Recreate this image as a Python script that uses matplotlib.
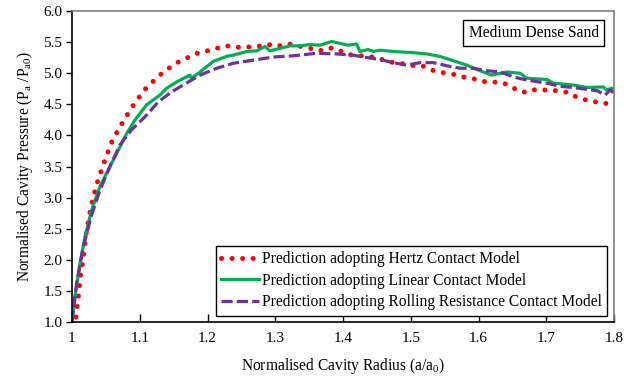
import matplotlib
matplotlib.use('Agg')
import matplotlib.pyplot as plt

plt.rcParams['font.family'] = ['Liberation Serif', 'DejaVu Serif']
plt.rcParams['mathtext.fontset'] = 'custom'
plt.rcParams['mathtext.rm'] = 'Liberation Serif'

# Data
hertz_x = [1.0059, 1.0074, 1.0093, 1.0123, 1.0167, 1.0202, 1.0251, 1.031, 1.0394, 1.0492,
           1.060, 1.0742, 1.0896, 1.1067, 1.1284, 1.1516, 1.1643, 1.1767, 1.189, 1.1997,
           1.2136, 1.2258, 1.2381, 1.2494, 1.2593, 1.2726, 1.2824, 1.2957, 1.308, 1.3208,
           1.3317, 1.3435, 1.3553, 1.366, 1.378, 1.3907, 1.403, 1.4138, 1.4389, 1.4522,
           1.4695, 1.4842, 1.5054, 1.517, 1.528, 1.5406, 1.553, 1.564, 1.5767, 1.598,
           1.6048, 1.616, 1.6292, 1.639, 1.649, 1.660, 1.672, 1.6844, 1.6956, 1.7074,
           1.720, 1.733, 1.744, 1.7557, 1.7656, 1.775, 1.7857, 1.7975, 1.8]
hertz_y = [1.08, 1.24, 1.40, 1.72, 2.05, 2.37, 2.69, 2.99, 3.32, 3.62,
           3.93, 4.20, 4.47, 4.73, 4.96, 5.15, 5.22, 5.28, 5.34, 5.36,
           5.40, 5.44, 5.43, 5.41, 5.42, 5.44, 5.43, 5.47, 5.44, 5.47,
           5.44, 5.42, 5.39, 5.36, 5.41, 5.39, 5.32, 5.29, 5.27, 5.24,
           5.18, 5.16, 5.12, 5.12, 5.06, 5.02, 5.00, 4.98, 4.94, 4.90,
           4.875, 4.85, 4.86, 4.83, 4.78, 4.71, 4.69, 4.74, 4.73, 4.73,
           4.71, 4.69, 4.62, 4.58, 4.54, 4.54, 4.52, 4.49, 4.48]

linear_x = [1.0, 1.0044, 1.0118, 1.0192, 1.029, 1.0413, 1.056, 1.066, 1.0807, 1.093, 1.110,
            1.1176, 1.130, 1.1398, 1.1545, 1.174, 1.1765, 1.189, 1.2086, 1.228, 1.238,
            1.258, 1.2726, 1.285, 1.292, 1.307, 1.322, 1.3366, 1.351, 1.366, 1.383,
            1.3956, 1.408, 1.420, 1.425, 1.437, 1.445, 1.4546, 1.474, 1.5038, 1.5236,
            1.543, 1.563, 1.5826, 1.602, 1.6195, 1.6416, 1.6613, 1.671, 1.7007, 1.7105,
            1.740, 1.760, 1.784, 1.789, 1.797, 1.8]
linear_y = [1.0, 1.41, 1.94, 2.37, 2.80, 3.18, 3.50, 3.71, 4.03, 4.25, 4.49,
            4.55, 4.65, 4.76, 4.86, 4.97, 4.92, 5.02, 5.19, 5.27, 5.29,
            5.35, 5.36, 5.43, 5.36, 5.40, 5.44, 5.44, 5.46, 5.45, 5.51,
            5.48, 5.45, 5.47, 5.35, 5.38, 5.35, 5.37, 5.35, 5.33, 5.31,
            5.27, 5.20, 5.13, 5.04, 4.97, 5.02, 5.00, 4.92, 4.90, 4.84,
            4.81, 4.77, 4.78, 4.73, 4.76, 4.70]

rolling_x = [1.0, 1.0069, 1.0167, 1.029, 1.0413, 1.056, 1.0709, 1.088, 1.1077, 1.1274, 1.147,
             1.164, 1.189, 1.2136, 1.238, 1.2676, 1.297, 1.3267, 1.361, 1.3907, 1.415,
             1.430, 1.4546, 1.474, 1.494, 1.5137, 1.5333, 1.553, 1.5727, 1.592, 1.612,
             1.632, 1.6515, 1.671, 1.7007, 1.720, 1.740, 1.760, 1.7746, 1.787, 1.794, 1.8]
rolling_y = [1.0, 1.62, 2.21, 2.72, 3.12, 3.50, 3.85, 4.09, 4.30, 4.54, 4.70,
             4.81, 4.97, 5.08, 5.16, 5.21, 5.26, 5.28, 5.32, 5.31, 5.29,
             5.26, 5.22, 5.17, 5.13, 5.17, 5.17, 5.12, 5.08, 5.08, 5.04,
             5.02, 4.94, 4.89, 4.84, 4.79, 4.77, 4.74, 4.72, 4.65, 4.73, 4.68]

labels = ['Prediction adopting Hertz Contact Model',
          'Prediction adopting Linear Contact Model',
          'Prediction adopting Rolling Resistance Contact Model']

fig = plt.figure(figsize=(6.41, 3.76), dpi=100)
ax = fig.add_axes([0.1123, 0.1436, 0.8457, 0.8271])

ax.plot(hertz_x, hertz_y, color='#FF0000', lw=3.6, linestyle=(0, (0.01, 2.1)),
        dash_capstyle='round', label=labels[0])
ax.plot(linear_x, linear_y, color='#00B050', lw=2.3, label=labels[1])
ax.plot(rolling_x, rolling_y, color='#7030A0', lw=2.3, linestyle=(0, (3.5, 1.3)),
        label=labels[2])

ax.set_xlim(1.0, 1.8)
ax.set_ylim(1.0, 6.0)
ax.set_xticks([1.0, 1.1, 1.2, 1.3, 1.4, 1.5, 1.6, 1.7, 1.8])
ax.set_xticklabels(['1', '1.1', '1.2', '1.3', '1.4', '1.5', '1.6', '1.7', '1.8'])
ax.set_yticks([1.0, 1.5, 2.0, 2.5, 3.0, 3.5, 4.0, 4.5, 5.0, 5.5, 6.0])
ax.set_yticklabels(['%.1f' % v for v in ax.get_yticks()])

ax.tick_params(axis='x', direction='in', length=6, width=1, labelsize=11, pad=7)
ax.tick_params(axis='y', direction='out', length=4, width=1, labelsize=11, pad=3)

for s in ['left', 'bottom']:
    ax.spines[s].set_color('black')
    ax.spines[s].set_linewidth(1.2)
for s in ['top', 'right']:
    ax.spines[s].set_color('#808080')
    ax.spines[s].set_linewidth(1.2)

ax.set_xlabel('Normalised Cavity Radius (a/a$_\\mathregular{0}$)', fontsize=11.2, labelpad=8)
ax.set_ylabel('Normalised Cavity Pressure (P$_\\mathregular{a}$ /P$_\\mathregular{a0}$)',
              fontsize=11.2, labelpad=6)

ax.text(0.972, 0.955, 'Medium Dense Sand', transform=ax.transAxes, ha='right', va='top',
        fontsize=11.2,
        bbox=dict(boxstyle='square,pad=0.35', facecolor='white', edgecolor='black', lw=1))

leg = ax.legend(loc='lower right', bbox_to_anchor=(0.987, 0.02), fontsize=11.2,
                frameon=True, fancybox=False, edgecolor='black', framealpha=1,
                handlelength=2.4, handletextpad=0.2, borderpad=0.35, labelspacing=0.35,
                borderaxespad=0)
leg.get_frame().set_linewidth(1)

fig.savefig('out.png', dpi=100)
